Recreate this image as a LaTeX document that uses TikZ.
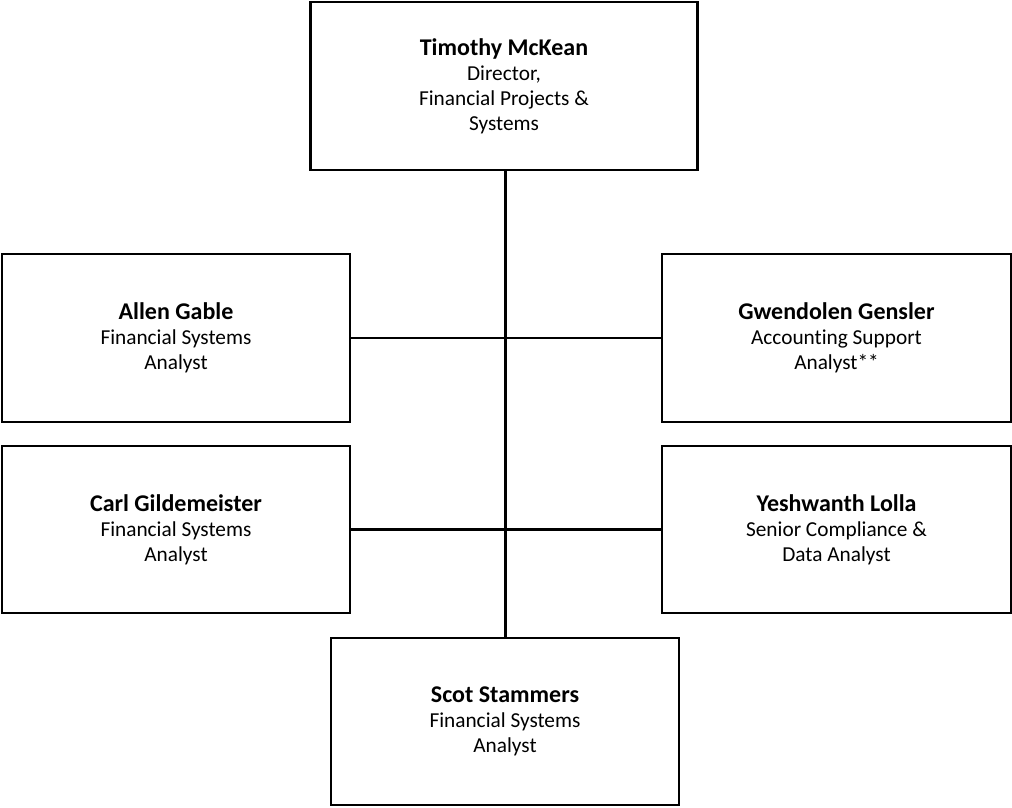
\documentclass[tikz,border=0pt]{standalone}
\usepackage{fontspec}
\setmainfont{Carlito}[Ligatures={NoCommon,NoContextual,NoRare}]
\newcommand{\pname}[1]{{\fontsize{24}{25}\selectfont\bfseries #1}}
\begin{document}
\begin{tikzpicture}[x=1pt,y=-1pt,
  person/.style={draw=black, line width=2.2pt, rectangle, align=center, inner sep=0pt,
    font=\fontsize{21.3}{25}\selectfont, text=black},
  trunk/.style={draw=black, line width=3pt},
  branch/.style={draw=black, line width=2.2pt}]
\useasboundingbox (0,0) rectangle (1012,807);
\node[person, minimum width=387pt, minimum height=168pt] (top) at (504,86)
  {\pname{Timothy McKean}\\Director,\\Financial Projects \&\\Systems};
\node[person, minimum width=348pt, minimum height=168pt] (allen) at (176,338)
  {\pname{Allen Gable}\\Financial Systems\\Analyst};
\node[person, minimum width=348pt, minimum height=167pt] (carl) at (176,529.5)
  {\pname{Carl Gildemeister}\\Financial Systems\\Analyst};
\node[person, minimum width=349pt, minimum height=168pt] (gwen) at (836.5,338)
  {\pname{Gwendolen Gensler}\\Accounting Support\\Analyst**};
\node[person, minimum width=349pt, minimum height=167pt] (yesh) at (836.5,529.5)
  {\pname{Yeshwanth Lolla}\\Senior Compliance \&\\Data Analyst};
\node[person, minimum width=348pt, minimum height=167pt] (scot) at (505,721.5)
  {\pname{Scot Stammers}\\Financial Systems\\Analyst};
\coordinate (tj) at ([xshift=1pt]top.south);
\draw[trunk] (tj) -- (tj |- scot.north);
\draw[branch] (allen.east) -- (gwen.west);
\draw[branch] (carl.east) -- (yesh.west);
\end{tikzpicture}
\end{document}
